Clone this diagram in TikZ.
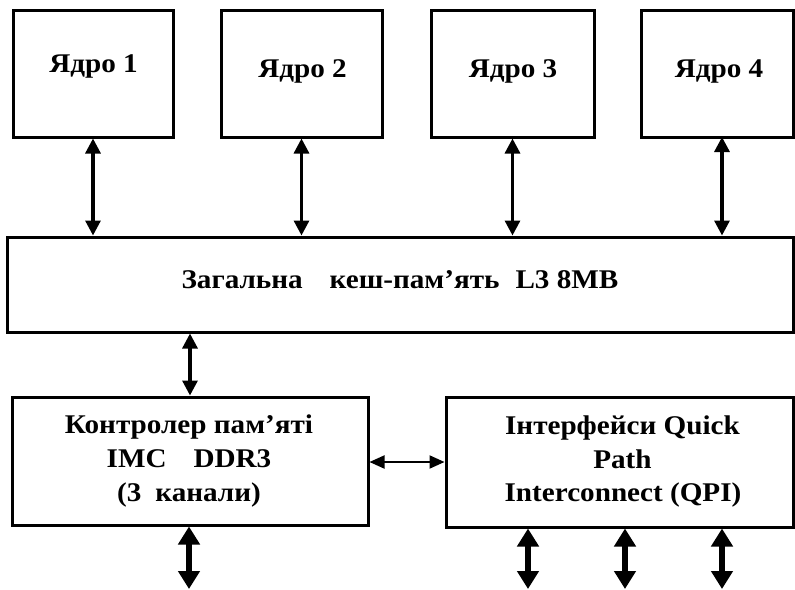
\documentclass[tikz,border=0pt]{standalone}
\usepackage{fontspec}
\setmainfont[FakeStretch=1.08]{Liberation Serif}
\usetikzlibrary{arrows.meta}
\begin{document}
\begin{tikzpicture}[x=1pt,y=-1pt,
  blk/.style={draw=black,line width=3pt,inner sep=0pt,fill=white},
  lbl/.style={inner sep=0pt,anchor=base,font=\bfseries\fontsize{27}{33}\selectfont},
  thin link/.style={line width=3.2pt,
    {Triangle[width=15pt,length=15pt]}-{Triangle[width=15pt,length=15pt]}},
  side link/.style={line width=2pt,
    {Triangle[width=13pt,length=15pt]}-{Triangle[width=13pt,length=15pt]}},
  bus link/.style={line width=6pt,
    {Triangle[width=21pt,length=18pt]}-{Triangle[width=21pt,length=18pt]}}]
\useasboundingbox (0,0) rectangle (795,589);

% processor cores
\node[blk,minimum width=160pt,minimum height=127pt] (c1) at (93,73.5) {};
\node[blk,minimum width=161pt,minimum height=127pt] (c2) at (301.5,73.5) {};
\node[blk,minimum width=163pt,minimum height=127pt] (c3) at (512.5,73.5) {};
\node[blk,minimum width=152pt,minimum height=127pt] (c4) at (717,73.5) {};
\node[lbl] (t1) at (93.5,72) {Ядро 1};
\node[lbl] (t2) at (302.5,77) {Ядро 2};
\node[lbl] (t3) at (513,77) {Ядро 3};
\node[lbl] (t4) at (719,77) {Ядро 4};

% shared cache
\node[blk,minimum width=786pt,minimum height=95pt] (l3) at (400,284.5) {};
\node[lbl] (tl3) at (400,288)
  {Загальна\hspace{27pt}кеш-пам’ять\hspace{16pt}L3 8MB};

% memory controller
\node[blk,minimum width=356pt,minimum height=128pt] (imc) at (190,461) {};
\node[lbl] (i1) at (189,433) {Контролер пам’яті};
\node[lbl] (i2) at (189,467) {IMC\hspace{27pt}DDR3};
\node[lbl] (i3) at (189,501) {(3\hspace{14pt}канали)};

% QuickPath interconnect
\node[blk,minimum width=347pt,minimum height=130pt] (qpi) at (619.5,462) {};
\node[lbl] (p1) at (622.5,434) {Інтерфейси Quick};
\node[lbl] (p2) at (622.5,468) {Path};
\node[lbl] (p3) at (623,501) {Interconnect (QPI)};

% outgoing bus ends
\coordinate (m1) at (189,589);
\coordinate (q1) at (528,589);
\coordinate (q2) at (625,589);
\coordinate (q3) at (722,589);
\coordinate (a4) at (722,137);

% connectors
\draw[thin link] (c1.south) -- (c1.south |- l3.north);
\draw[thin link] (c2.south) -- (c2.south |- l3.north);
\draw[thin link] (c3.south) -- (c3.south |- l3.north);
\draw[thin link] (a4) -- (a4 |- l3.north);
\draw[thin link] (imc.north |- l3.south) -- (imc.north);
\draw[side link] (imc.east |- 0,462) -- (qpi.west);
\draw[bus link] (m1 |- imc.south) -- (m1);
\draw[bus link] (q1 |- qpi.south) -- (q1);
\draw[bus link] (q2 |- qpi.south) -- (q2);
\draw[bus link] (q3 |- qpi.south) -- (q3);
\end{tikzpicture}
\end{document}
